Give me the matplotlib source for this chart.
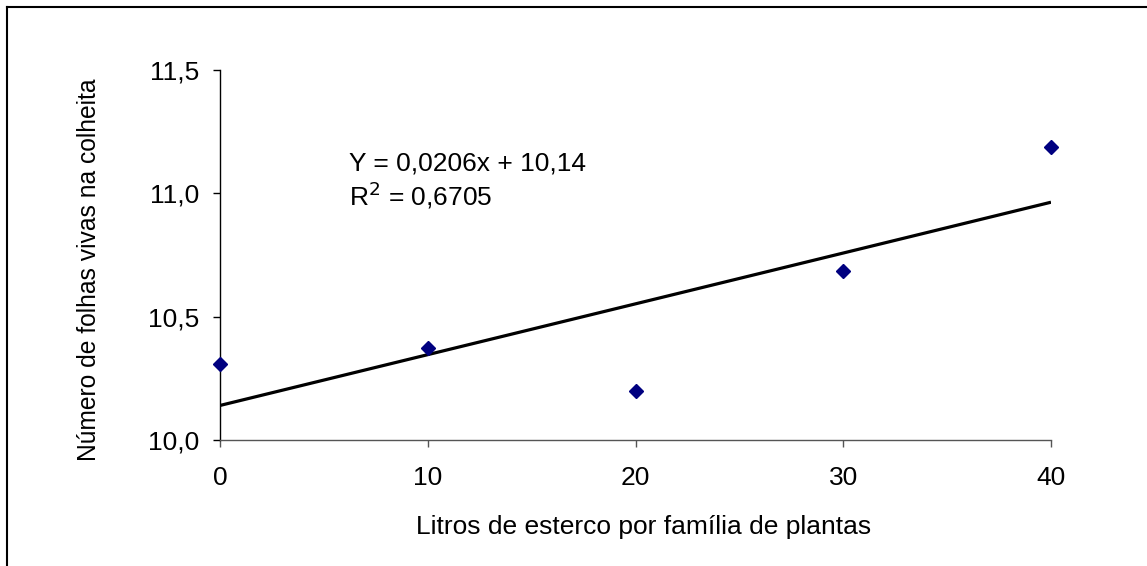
import numpy as np
import matplotlib.pyplot as plt
from matplotlib.lines import Line2D

plt.rcParams['font.family'] = ['Liberation Sans', 'DejaVu Sans']

# data
litros = [0, 10, 20, 30, 40]
folhas = [10.31, 10.375, 10.197, 10.685, 11.188]
slope = 0.0206
intercept = 10.14
yticks = [10.0, 10.5, 11.0, 11.5]
ytick_labels = ['10,0', '10,5', '11,0', '11,5']
xticks = [0, 10, 20, 30, 40]

W, H = 1147, 566
fs = 19
fig = plt.figure(figsize=(W / 100, H / 100), dpi=100)
ax = fig.add_axes([220 / W, 1 - 440 / H, (1051 - 220) / W, (440 - 70) / H])

# trend line
xl = np.array([0, 40])
ax.plot(xl, slope * xl + intercept, color='black', lw=2.3, solid_capstyle='butt', zorder=2)
ax.plot(litros, folhas, 'D', color='#000080', markersize=7, zorder=3, clip_on=False)

ax.set_xlim(0, 40)
ax.set_ylim(10.0, 11.5)
ax.set_xticks(xticks)
ax.set_yticks(yticks)
ax.set_yticklabels(ytick_labels)
for s in ['top', 'right']:
    ax.spines[s].set_visible(False)
ax.spines['left'].set_color('black')
ax.spines['bottom'].set_color('#555555')
for sp in ax.spines.values():
    sp.set_linewidth(1)
ax.tick_params(axis='both', direction='out', length=5, width=1, labelsize=fs)
ax.tick_params(axis='x', colors='#555555', labelcolor='black', pad=14)
ax.tick_params(axis='y', pad=10)

fig.text(644 / W, 1 - 527 / H, 'Litros de esterco por família de plantas',
         fontsize=fs, ha='center', va='center')
fig.text(89 / W, 1 - 270 / H, 'Número de folhas vivas na colheita',
         fontsize=17.7, ha='center', va='center', rotation=90)

fig.text(349 / W, 1 - 163 / H, 'Y = 0,0206x + 10,14', fontsize=fs, va='center', ha='left')
fig.text(349 / W, 1 - 195 / H, 'R$^2$ = 0,6705', fontsize=fs, va='center', ha='left')

# border of the chart area (left and top edges visible)
fig.add_artist(Line2D([7 / W, 7 / W], [0, 1 - 7 / H], color='black', lw=1.5))
fig.add_artist(Line2D([7 / W, 1], [1 - 7 / H, 1 - 7 / H], color='black', lw=1.5))

fig.savefig('out.png', dpi=100)
